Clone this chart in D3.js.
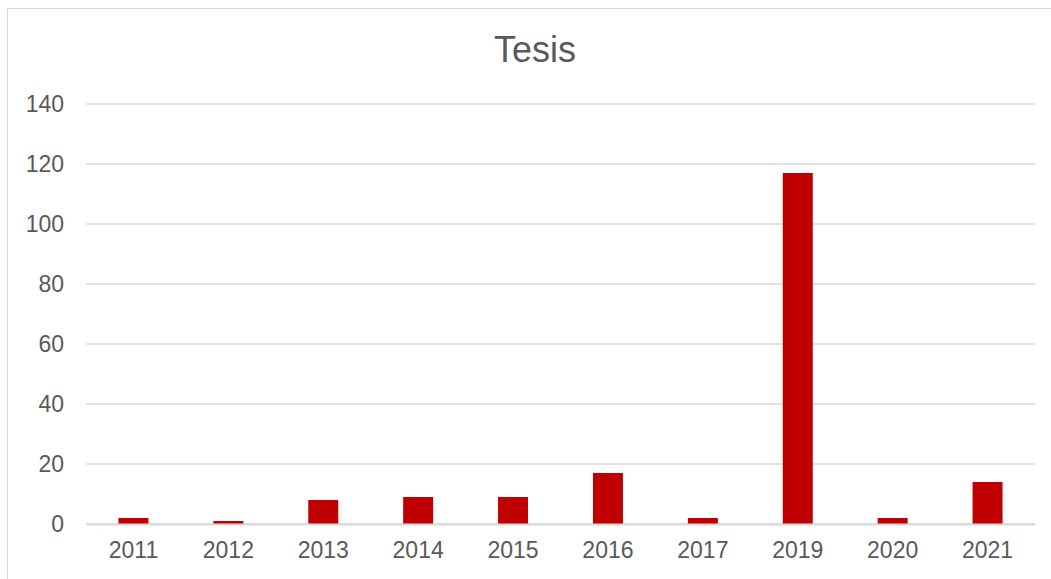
<!DOCTYPE html>
<html>
<head>
<meta charset="utf-8">
<script src="https://cdnjs.cloudflare.com/ajax/libs/d3/7.8.5/d3.min.js"></script>
<style>
  body { margin: 0; background: #fff; }
  svg { display: block; font-family: Arial, "Liberation Sans", sans-serif; }
</style>
</head>
<body>
<div id="chart"></div>
<script>
// data
var years = ["2011", "2012", "2013", "2014", "2015", "2016", "2017", "2019", "2020", "2021"];
var tesis = [2, 1, 8, 9, 9, 17, 2, 117, 2, 14];
var yTicks = [0, 20, 40, 60, 80, 100, 120, 140];

var width = 1051, height = 579;
var margin = {left: 86, right: 16, top: 104, bottom: 55};

var svg = d3.select("#chart").append("svg")
    .attr("width", width)
    .attr("height", height);

// chart area border
svg.append("rect")
    .attr("x", 7.5).attr("y", 8.5)
    .attr("width", 1060).attr("height", 600)
    .attr("fill", "none")
    .attr("stroke", "#d9d9d9")
    .attr("stroke-width", 1);

var x = d3.scaleBand()
    .domain(years)
    .range([margin.left, width - margin.right])
    .paddingInner(0.684)
    .paddingOuter(0.342);

var y = d3.scaleLinear()
    .domain([0, 140])
    .range([height - margin.bottom, margin.top]);

// gridlines
svg.append("g")
    .selectAll("line")
    .data(yTicks)
    .enter().append("line")
    .attr("x1", margin.left)
    .attr("x2", width - margin.right)
    .attr("y1", function(d) { return y(d); })
    .attr("y2", function(d) { return y(d); })
    .attr("stroke", "#d9d9d9")
    .attr("stroke-width", 1.5);

// y axis labels
var yAxis = svg.append("g")
    .attr("transform", "translate(" + (margin.left - 22) + ",0)")
    .call(d3.axisLeft(y).tickValues(yTicks).tickSize(0).tickPadding(0));
yAxis.select(".domain").remove();
yAxis.selectAll("text")
    .attr("fill", "#595959")
    .style("font-size", "23px")
    .attr("font-family", null);

// bars
svg.append("g")
    .selectAll("rect")
    .data(tesis)
    .enter().append("rect")
    .attr("x", function(d, i) { return x(years[i]); })
    .attr("y", function(d) { return y(d); })
    .attr("width", x.bandwidth())
    .attr("height", function(d) { return y(0) - y(d); })
    .attr("fill", "#c00000");

// x axis
var xAxis = svg.append("g")
    .attr("transform", "translate(0," + y(0) + ")")
    .call(d3.axisBottom(x).tickSize(0).tickPadding(18));
xAxis.select(".domain")
    .attr("stroke", "#d9d9d9")
    .attr("stroke-width", 2);
xAxis.selectAll("text")
    .attr("fill", "#595959")
    .style("font-size", "23px")
    .attr("font-family", null);

// title
svg.append("text")
    .attr("x", 535)
    .attr("y", 62)
    .attr("text-anchor", "middle")
    .attr("fill", "#595959")
    .style("font-size", "36px")
    .text("Tesis");
</script>
</body>
</html>
